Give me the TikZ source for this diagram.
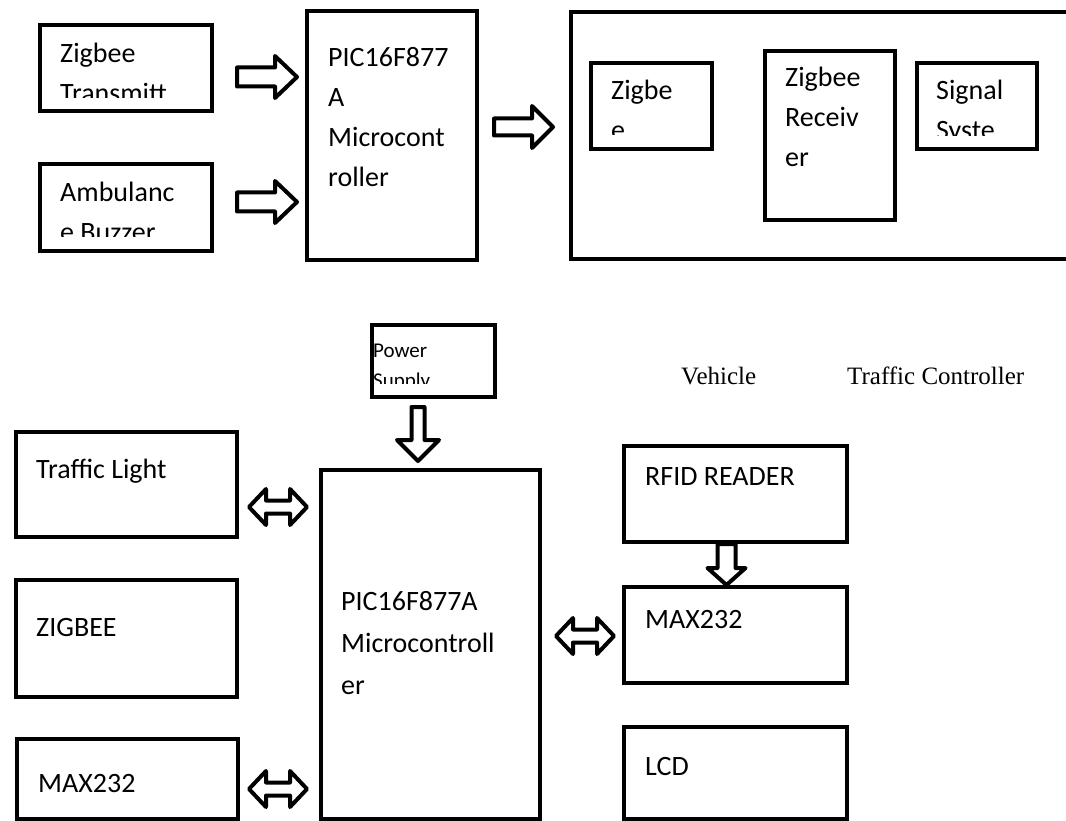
\documentclass[tikz,border=0pt]{standalone}
\usepackage{fontspec}
\setmainfont{Carlito}
\newfontfamily\vfont{Liberation Serif}
\usetikzlibrary{calc}

\tikzset{
  box/.style 2 args={draw, line width=4pt, rectangle, anchor=north west, inner sep=0pt,
    minimum width=#1pt, minimum height=#2pt},
  lbl/.style={anchor=base west, inner sep=0pt, font=\fontsize{28}{34}\selectfont},
  small/.style={anchor=base west, inner sep=0pt, font=\fontsize{21}{24}\selectfont},
  serifcap/.style={anchor=base west, inner sep=0pt, font=\vfont\fontsize{25}{30}\selectfont},
  blk/.style={draw, fill=white, line width=4pt, line join=round},
}

% #1 tail, #2 tip, #3 half shaft, #4 half head, #5 head length
\newcommand{\blkright}[5]{%
  \draw[blk] ($(#1)+(0,-#3)$) -- ($(#2)+(-#5,-#3)$) -- ($(#2)+(-#5,-#4)$) -- (#2)
    -- ($(#2)+(-#5,#4)$) -- ($(#2)+(-#5,#3)$) -- ($(#1)+(0,#3)$) -- cycle;}
\newcommand{\blkdown}[5]{%
  \draw[blk] ($(#1)+(-#3,0)$) -- ($(#2)+(-#3,-#5)$) -- ($(#2)+(-#4,-#5)$) -- (#2)
    -- ($(#2)+(#4,-#5)$) -- ($(#2)+(#3,-#5)$) -- ($(#1)+(#3,0)$) -- cycle;}
\newcommand{\blkboth}[5]{%
  \draw[blk] (#1) -- ($(#1)+(#5,-#4)$) -- ($(#1)+(#5,-#3)$) -- ($(#2)+(-#5,-#3)$)
    -- ($(#2)+(-#5,-#4)$) -- (#2) -- ($(#2)+(-#5,#4)$) -- ($(#2)+(-#5,#3)$)
    -- ($(#1)+(#5,#3)$) -- ($(#1)+(#5,#4)$) -- cycle;}

\begin{document}
\begin{tikzpicture}[x=1pt,y=-1pt]
  \useasboundingbox (0,0) rectangle (1066,821);
  \clip (0,0) rectangle (1066,821);

  % ambulance side
  \node[box={172}{86}] (zt) at (38,23) {};
  \node[box={172}{87}] (ab) at (38,162) {};
  \node[box={170}{249}] (pic1) at (305,9) {};
  \foreach \t [count=\i] in {PIC16F877,A,Microcont,roller}
    \node[lbl] (p1t\i) at (328,27+40*\i) {\t};

  % signal side
  \node[box={520}{247}] (tc) at (569,10) {};
  \node[box={121}{86}] (zg) at (589,61) {};
  \node[box={130}{169}] (rcv) at (763,49) {};
  \node[box={120}{86}] (sg) at (915,61) {};
  \foreach \t [count=\i] in {Zigbee,Receiv,er}
    \node[lbl] (rt\i) at (785,47+40*\i) {\t};

  % junction
  \node[box={123}{72}] (pw) at (370,323) {};
  \node[box={221}{105}] (tl) at (14,430) {};
  \node[box={221}{117}] (zb) at (14,578) {};
  \node[box={221}{80}] (mx1) at (15,737) {};
  \node[box={219}{349}] (pic2) at (319,468) {};
  \node[box={223}{96}] (rf) at (622,444) {};
  \node[box={223}{96}] (mx2) at (622,585) {};
  \node[box={223}{92}] (lcd) at (622,725) {};

  % text that runs past the box
  \begin{scope}
    \clip (40,25) rectangle (208,98) (40,164) rectangle (208,237)
          (591,63) rectangle (708,135) (917,63) rectangle (1033,136)
          (372,325) rectangle (491,383);
    \node[lbl] (zt1) at (60,63) {Zigbee};
    \node[lbl] (zt2) at (60,103) {Transmitt};
    \node[lbl] (ab1) at (60,202) {Ambulanc};
    \node[lbl] (ab2) at (60,242) {e Buzzer};
    \node[lbl] (zg1) at (611,100) {Zigbe};
    \node[lbl] (zg2) at (611,140) {e};
    \node[lbl] (sg1) at (936,100) {Signal};
    \node[lbl] (sg2) at (936,140) {Syste};
    \node[small] (pw1) at (373,357) {Power};
    \node[small] (pw2) at (373,387) {Supply};
  \end{scope}

  \node[lbl] (tlt) at (36,478) {Traffic Light};
  \node[lbl] (zbt) at (36,636) {ZIGBEE};
  \node[lbl] (mx1t) at (38,792) {MAX232};
  \foreach \t [count=\i] in {PIC16F877A,Microcontroll,er}
    \node[lbl] (p2t\i) at (341,568+42*\i) {\t};
  \node[lbl] (rft) at (645,485) {RFID READER};
  \node[lbl] (mx2t) at (645,628) {MAX232};
  \node[lbl] (lcdt) at (645,775) {LCD};
  \node[serifcap] (veh) at (681,384) {Vehicle};
  \node[serifcap] (tcl) at (847,384) {Traffic Controller};

  % block arrows
  \coordinate (a1s) at ($(zt.east |- 0,77)+(23,0)$);
  \coordinate (a1e) at ($(pic1.west |- 0,77)+(-8,0)$);
  \coordinate (a2s) at ($(ab.east |- 0,202)+(23,0)$);
  \coordinate (a2e) at ($(pic1.west |- 0,202)+(-8,0)$);
  \coordinate (a3s) at ($(pic1.east |- 0,127)+(15,0)$);
  \coordinate (a3e) at ($(tc.west |- 0,127)+(-16,0)$);
  \blkright{a1s}{a1e}{9.5}{21}{22}
  \blkright{a2s}{a2e}{9.5}{21}{22}
  \blkright{a3s}{a3e}{8.5}{21}{21}

  \coordinate (ps) at ($(pw.south)+(-15.5,8)$);
  \coordinate (pe) at ($(ps |- pic2.north)+(0,-7)$);
  \blkdown{ps}{pe}{6.5}{21}{21}
  \coordinate (rs) at ($(rf.south)+(-9,0)$);
  \coordinate (re) at ($(mx2.north)+(-9,0)$);
  \blkdown{rs}{re}{9}{19}{17}

  \coordinate (d1s) at ($(tl.east |- 0,507)+(10,0)$);
  \coordinate (d1e) at ($(pic2.west |- 0,507)+(-12,0)$);
  \coordinate (d2s) at ($(mx1.east |- 0,789)+(9,0)$);
  \coordinate (d2e) at ($(pic2.west |- 0,789)+(-12,0)$);
  \coordinate (d3s) at ($(pic2.east |- 0,636)+(14,0)$);
  \coordinate (d3e) at ($(mx2.west |- 0,636)+(-8,0)$);
  \blkboth{d1s}{d1e}{6.5}{18}{17}
  \blkboth{d2s}{d2e}{6.5}{18}{17}
  \blkboth{d3s}{d3e}{6.5}{18}{17}
\end{tikzpicture}
\end{document}
